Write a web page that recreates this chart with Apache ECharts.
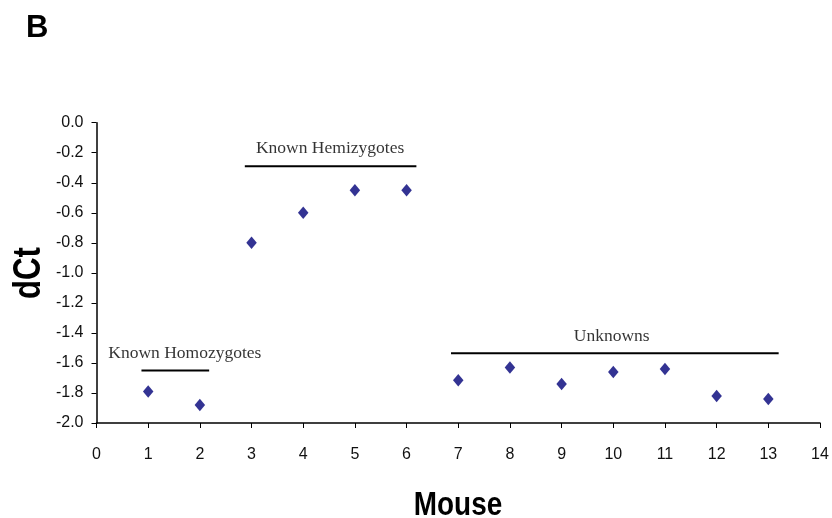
<!DOCTYPE html>
<html><head><meta charset="utf-8">
<script src="https://cdn.jsdelivr.net/npm/echarts@6/dist/echarts.min.js"></script>
<style>html,body{margin:0;padding:0;background:#fff}#c{width:832px;height:518px}</style>
</head><body><div id="c"></div>
<script>
const mice = [1,2,3,4,5,6,7,8,9,10,11,12,13];
const dct = [-1.79,-1.88,-0.80,-0.60,-0.45,-0.45,-1.715,-1.63,-1.74,-1.66,-1.64,-1.82,-1.84];
const groupNames = ['Known Homozygotes','Known Hemizygotes','Unknowns'];
const groupLineX = [[0.87,2.18],[2.87,6.19],[6.86,13.2]];
const groupLineY = [-1.65,-0.29,-1.535];
const groupLabelX = [1.71,4.52,9.97];
const groupLabelY = [-1.535,-0.17,-1.42];
const yTicks = ['0.0','-0.2','-0.4','-0.6','-0.8','-1.0','-1.2','-1.4','-1.6','-1.8','-2.0'];
const xTitle = 'Mouse';
const yTitle = 'dCt';

const chart = echarts.init(document.getElementById('c'));
const series = [{
  type:'scatter', symbol:'diamond', symbolSize:[10.5,12.5],
  itemStyle:{color:'#000078'},
  data: mice.map((m,i)=>[m,dct[i]]), z:5
}];
groupNames.forEach((n,i)=>{
  series.push({type:'line', symbol:'none', silent:true,
    lineStyle:{color:'#000',width:2},
    data:[[groupLineX[i][0],groupLineY[i]],[groupLineX[i][1],groupLineY[i]]]});
});
series.push({type:'scatter', symbolSize:1, itemStyle:{color:'rgba(0,0,0,0)'}, silent:true,
  label:{show:true, position:'inside', formatter:p=>groupNames[p.dataIndex],
    fontFamily:'Liberation Serif', fontSize:17.5, color:'#000'},
  data: groupNames.map((n,i)=>[groupLabelX[i],groupLabelY[i]])});

chart.setOption({
  animation:false,
  title:{text:'B', left:26, top:13, padding:0, textStyle:{fontFamily:'Liberation Sans', fontWeight:'bold', fontSize:31, color:'#000'}},
  grid:{left:96.5, right:12, top:122.7, bottom:95, containLabel:false, outerBoundsMode:'none'},
  xAxis:{type:'value', min:0, max:14, interval:1,
    axisLine:{onZero:false, lineStyle:{color:'#000',width:1.5}},
    axisTick:{show:true, length:5, lineStyle:{color:'#000'}},
    axisLabel:{margin:24, fontFamily:'Liberation Sans', fontSize:16, color:'#111'},
    splitLine:{show:false}},
  yAxis:{type:'value', min:-2, max:0, interval:0.2,
    axisLine:{show:true, onZero:false, lineStyle:{color:'#000',width:1.5}},
    axisTick:{show:true, length:5, lineStyle:{color:'#000'}},
    axisLabel:{margin:13, fontFamily:'Liberation Sans', fontSize:16, color:'#111',
      formatter:v=>yTicks[Math.round(-v/0.2)]},
    splitLine:{show:false}},
  graphic:[
    {type:'text', x:458, y:506, scaleX:0.82,
     style:{text:xTitle, font:'bold 34px "Liberation Sans"', fill:'#000', align:'center', verticalAlign:'middle', textAlign:'center', textVerticalAlign:'middle'}},
    {type:'text', x:30, y:273, rotation:Math.PI/2, scaleX:0.82,
     style:{text:yTitle, font:'bold 38px "Liberation Sans"', fill:'#000', align:'center', verticalAlign:'middle', textAlign:'center', textVerticalAlign:'middle'}}
  ],
  series
});
</script></body></html>
